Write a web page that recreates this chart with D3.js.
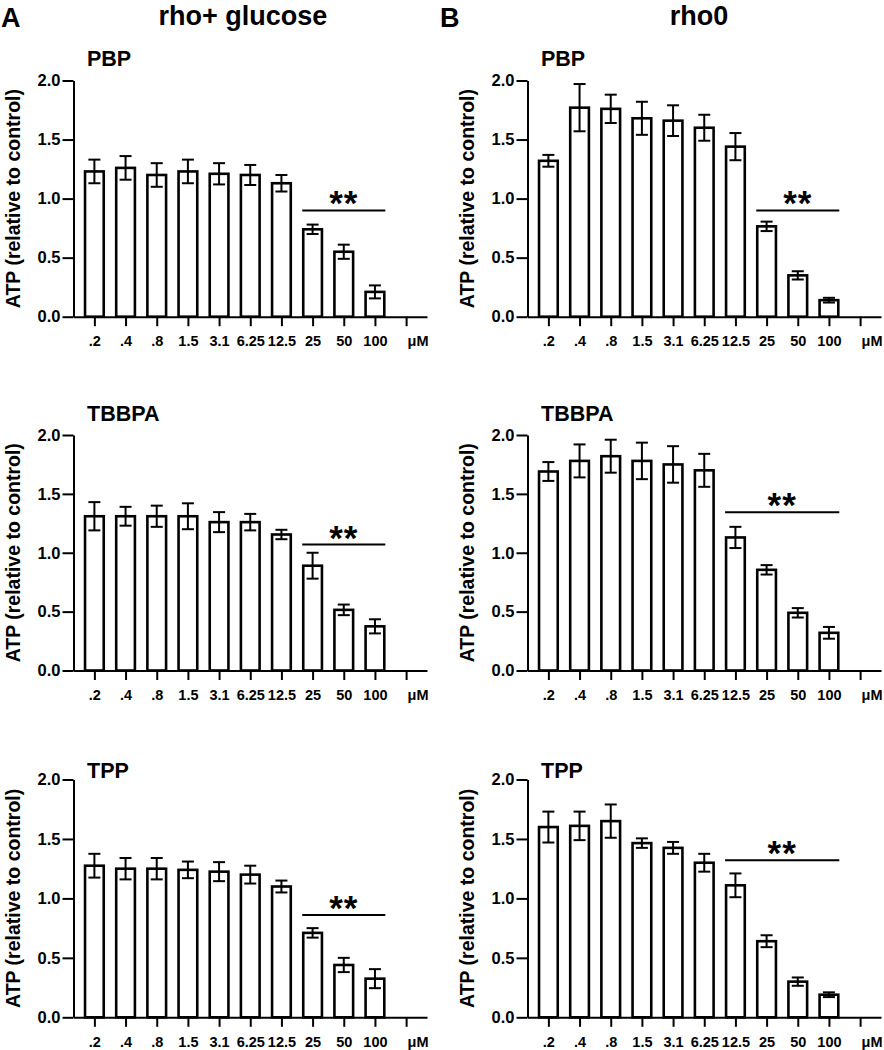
<!DOCTYPE html>
<html lang="en">
<head>
    <meta charset="UTF-8">
    <title>ATP rho+ glucose vs rho0</title>
    <style>
        body{
            margin:0;
            background:#fff;
        }
        text{
            font-family:"Liberation Sans", Arial, sans-serif;
            font-weight:bold;
            fill:#000;
        }
    </style>
    <script src="https://cdn.jsdelivr.net/npm/d3@7"></script>
</head>
<body>
<div id="container"></div>
<script>

// concentrations (µM) shown on the x axis, last slot is the unit label
var concentrations = [".2", ".4", ".8", "1.5", "3.1", "6.25", "12.5", "25", "50", "100"];
var unitLabel = "μM";
var yTicks = [0, 0.5, 1.0, 1.5, 2.0];

var compounds = ["PBP", "TBBPA", "TPP"];
var conditions = ["rho+ glucose", "rho0"];
var panelLetters = ["A", "B"];

// rho+ glucose, mean and SEM
var rhoPlusPBP      = [1.23, 1.26, 1.20, 1.23, 1.21, 1.20, 1.13, 0.74, 0.55, 0.21];
var rhoPlusPBPErr   = [0.10, 0.10, 0.10, 0.10, 0.09, 0.085, 0.07, 0.04, 0.06, 0.055];
var rhoPlusTBBPA    = [1.31, 1.31, 1.31, 1.31, 1.26, 1.26, 1.155, 0.89, 0.515, 0.375];
var rhoPlusTBBPAErr = [0.12, 0.08, 0.09, 0.11, 0.085, 0.07, 0.04, 0.11, 0.045, 0.06];
var rhoPlusTPP      = [1.275, 1.25, 1.25, 1.24, 1.225, 1.20, 1.10, 0.71, 0.44, 0.325];
var rhoPlusTPPErr   = [0.10, 0.09, 0.09, 0.07, 0.08, 0.075, 0.05, 0.04, 0.06, 0.08];

// rho0
var rho0PBP      = [1.32, 1.77, 1.76, 1.68, 1.66, 1.60, 1.44, 0.765, 0.35, 0.14];
var rho0PBPErr   = [0.05, 0.20, 0.12, 0.14, 0.13, 0.11, 0.115, 0.04, 0.035, 0.02];
var rho0TBBPA    = [1.69, 1.78, 1.82, 1.78, 1.75, 1.70, 1.13, 0.855, 0.49, 0.32];
var rho0TBBPAErr = [0.08, 0.14, 0.14, 0.155, 0.155, 0.14, 0.09, 0.04, 0.04, 0.05];
var rho0TPP      = [1.60, 1.61, 1.65, 1.465, 1.425, 1.30, 1.11, 0.64, 0.30, 0.19];
var rho0TPPErr   = [0.13, 0.12, 0.14, 0.04, 0.05, 0.075, 0.10, 0.05, 0.035, 0.02];

// significance bars (**): first and last concentration, height in ATP units
var rhoPlusSigFrom  = ["25", "25", "25"];
var rhoPlusSigLevel = [0.90, 1.07, 0.86];
var rho0SigFrom     = ["25", "12.5", "12.5"];
var rho0SigLevel    = [0.90, 1.345, 1.32];
var sigTo = "100";

var means = [[rhoPlusPBP, rhoPlusTBBPA, rhoPlusTPP], [rho0PBP, rho0TBBPA, rho0TPP]];
var errs = [[rhoPlusPBPErr, rhoPlusTBBPAErr, rhoPlusTPPErr], [rho0PBPErr, rho0TBBPAErr, rho0TPPErr]];
var sigFrom = [rhoPlusSigFrom, rho0SigFrom];
var sigLevel = [rhoPlusSigLevel, rho0SigLevel];

// page layout
var w = 884;
var h = 1050;
var cols = [
    {axisX: 73.5, axisEnd: 427, titleX: 87, yTitleX: 20, headX: 243, letterX: 1},
    {axisX: 527.5, axisEnd: 881, titleX: 541, yTitleX: 474, headX: 699, letterX: 440}
];
var rows = [
    {top: 80.5, bottom: 316.7, titleY: 65.5},
    {top: 435, bottom: 670.5, titleY: 421},
    {top: 779.5, bottom: 1017.3, titleY: 777.5}
];

var svg = d3.select("#container")
        .append("svg")
        .attr("width", w)
        .attr("height", h);

// column headers
cols.forEach(function (c, ci) {
    svg.append("text")
            .attr("x", c.letterX)
            .attr("y", 27)
            .attr("font-size", "27px")
            .text(panelLetters[ci]);
    svg.append("text")
            .attr("x", c.headX)
            .attr("y", 25)
            .attr("text-anchor", "middle")
            .attr("font-size", "27px")
            .text(conditions[ci]);
});

var categories = concentrations.concat([unitLabel]);

cols.forEach(function (c, ci) {
    rows.forEach(function (r, ri) {
        var g = svg.append("g");
        var values = means[ci][ri];
        var sem = errs[ci][ri];

        var xScale = d3.scalePoint()
                .domain(categories)
                .range([c.axisX, c.axisEnd])
                .padding(0.67);
        var barW = xScale.step() * 0.6;

        var yScale = d3.scaleLinear()
                .domain([0, 2])
                .range([r.bottom, r.top]);

        //Create bars
        g.selectAll("rect")
                .data(values)
                .enter()
                .append("rect")
                .attr("x", function (d, i) {
                    return xScale(concentrations[i]) - barW / 2;
                })
                .attr("y", function (d) {
                    return yScale(d);
                })
                .attr("width", barW)
                .attr("height", function (d) {
                    return yScale(0) - yScale(d);
                })
                .attr("fill", "white")
                .attr("stroke", "black")
                .attr("stroke-width", 2.6);

        // error bars with caps
        var eb = g.selectAll(".eb")
                .data(values)
                .enter()
                .append("g")
                .attr("class", "eb")
                .attr("stroke", "black")
                .attr("stroke-width", 2);
        eb.append("line")
                .attr("x1", function (d, i) { return xScale(concentrations[i]); })
                .attr("x2", function (d, i) { return xScale(concentrations[i]); })
                .attr("y1", function (d, i) { return yScale(d + sem[i]); })
                .attr("y2", function (d, i) { return yScale(d - sem[i]); });
        [1, -1].forEach(function (s) {
            eb.append("line")
                    .attr("x1", function (d, i) { return xScale(concentrations[i]) - 6; })
                    .attr("x2", function (d, i) { return xScale(concentrations[i]) + 6; })
                    .attr("y1", function (d, i) { return yScale(d + s * sem[i]); })
                    .attr("y2", function (d, i) { return yScale(d + s * sem[i]); });
        });

        // axes
        var xAxis = d3.axisBottom(xScale)
                .tickSizeInner(9.5)
                .tickSizeOuter(0)
                .tickPadding(10);
        var gx = g.append("g")
                .attr("transform", "translate(0," + r.bottom + ")")
                .call(xAxis);
        gx.selectAll("text")
                .attr("font-size", "14.5px")
                .filter(function (d) { return d === unitLabel; })
                .attr("text-anchor", "start")
                .attr("x", 1);

        var yAxis = d3.axisLeft(yScale)
                .tickValues(yTicks)
                .tickFormat(d3.format(".1f"))
                .tickSizeInner(11)
                .tickSizeOuter(0)
                .tickPadding(2);
        var gy = g.append("g")
                .attr("transform", "translate(" + c.axisX + ",0)")
                .call(yAxis);
        gy.selectAll("text").attr("font-size", "16.5px");

        g.selectAll(".domain, .tick line")
                .attr("stroke", "black")
                .attr("stroke-width", 2);
        g.selectAll(".tick text").attr("fill", "black");

        // y title
        g.append("text")
                .attr("transform", "translate(" + c.yTitleX + "," + ((r.top + r.bottom) / 2) + ") rotate(-90)")
                .attr("text-anchor", "middle")
                .attr("font-size", "19.5px")
                .text("ATP (relative to control)");

        // compound title
        g.append("text")
                .attr("x", c.titleX)
                .attr("y", r.titleY)
                .attr("font-size", "21.5px")
                .text(compounds[ri]);

        // significance
        var sx1 = xScale(sigFrom[ci][ri]) - barW / 2 - 1;
        var sx2 = xScale(sigTo) + barW / 2 + 1;
        var sy = yScale(sigLevel[ci][ri]);
        g.append("line")
                .attr("x1", sx1)
                .attr("x2", sx2)
                .attr("y1", sy)
                .attr("y2", sy)
                .attr("stroke", "black")
                .attr("stroke-width", 2);
        g.append("text")
                .attr("x", (sx1 + sx2) / 2)
                .attr("y", sy + 5)
                .attr("text-anchor", "middle")
                .attr("font-size", "35px")
                .attr("letter-spacing", "1px")
                .text("**");
    });
});

</script>
</body>
</html>
